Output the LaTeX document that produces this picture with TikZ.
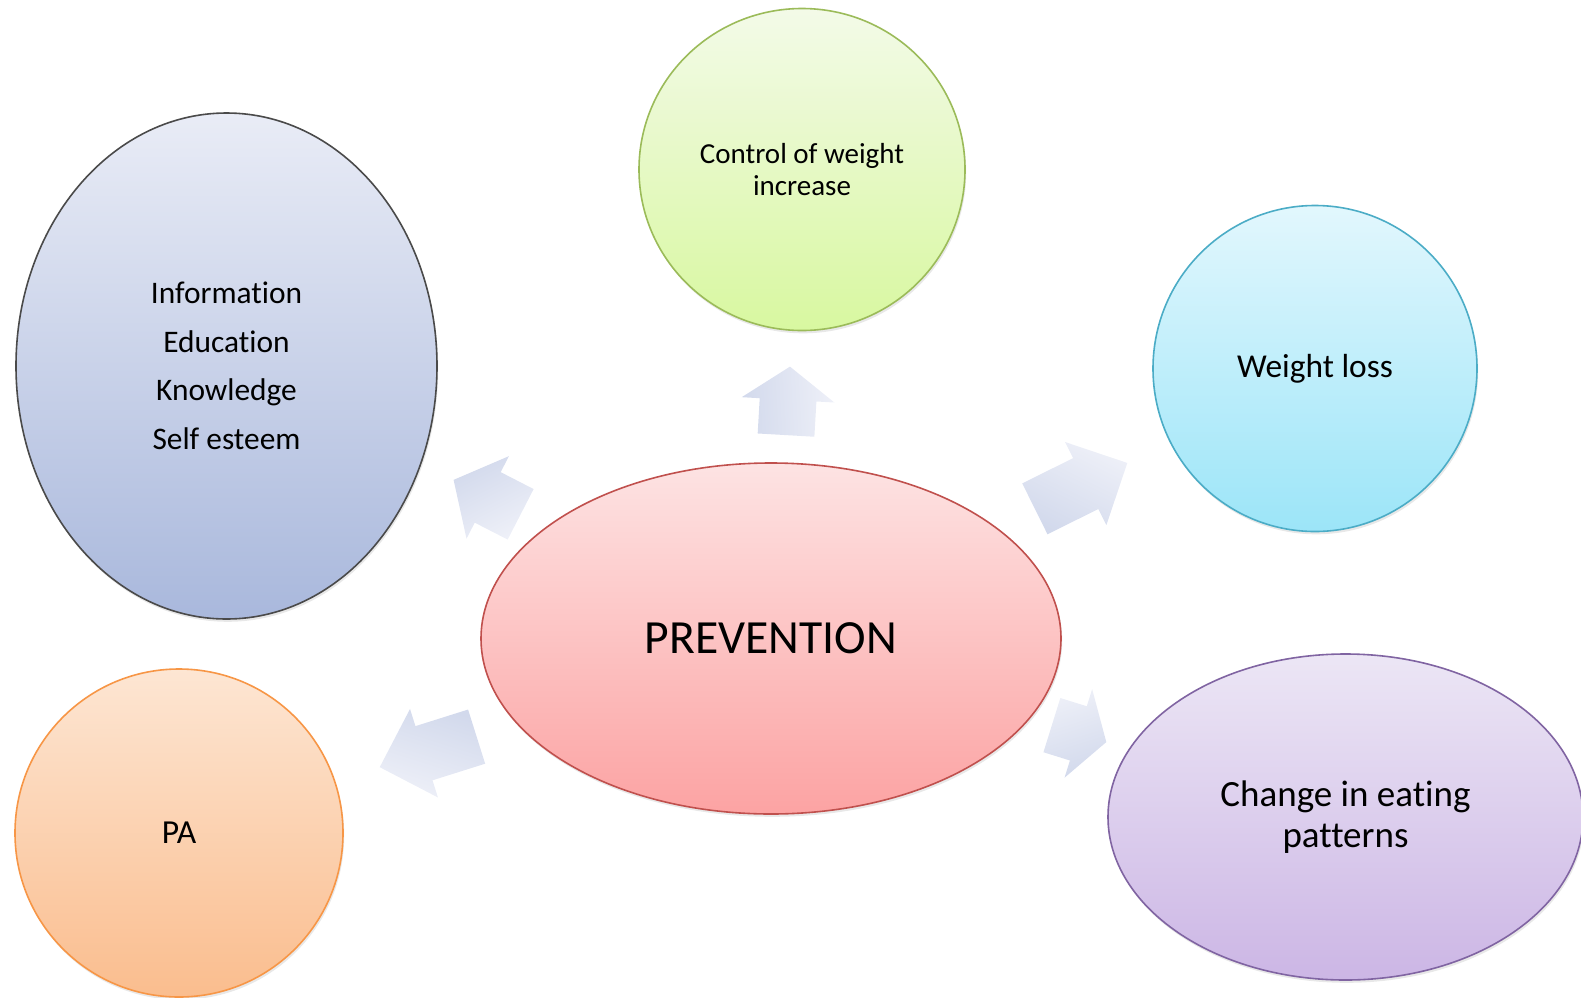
\documentclass[tikz,border=0pt]{standalone}
\usepackage{fontspec}
\setmainfont{Carlito}[Ligatures=NoCommon]
\usetikzlibrary{shapes,shapes.arrows,shadows}

\definecolor{infoTop}{HTML}{E9ECF6}
\definecolor{infoBot}{HTML}{A9B8DC}
\definecolor{infoLine}{HTML}{4A4A4A}
\definecolor{ctrlTop}{HTML}{F3FAE8}
\definecolor{ctrlBot}{HTML}{D8F8A0}
\definecolor{ctrlLine}{HTML}{9BBB59}
\definecolor{lossTop}{HTML}{E2F7FD}
\definecolor{lossBot}{HTML}{9CE5F8}
\definecolor{lossLine}{HTML}{4BACC6}
\definecolor{prevTop}{HTML}{FDE3E3}
\definecolor{prevBot}{HTML}{FCA3A3}
\definecolor{prevLine}{HTML}{C0504D}
\definecolor{paTop}{HTML}{FDE6D3}
\definecolor{paBot}{HTML}{FABD8E}
\definecolor{paLine}{HTML}{F79646}
\definecolor{eatTop}{HTML}{ECE6F5}
\definecolor{eatBot}{HTML}{CCB6E5}
\definecolor{eatLine}{HTML}{8064A2}
\definecolor{arrTop}{HTML}{EEF0F8}
\definecolor{arrBot}{HTML}{D2D9EC}

\begin{document}
\begin{tikzpicture}[
    x=0.5pt, y=-0.5pt,
    bubble/.style={ellipse, draw, line width=0.8pt, inner sep=0pt, align=center,
        drop shadow={opacity=0.18, shadow xshift=0.6pt, shadow yshift=-1.4pt}},
    blockarrow/.style={single arrow, draw=none, anchor=tail,
        inner xsep=0pt, inner ysep=14pt, text height=0pt, text depth=0pt,
        single arrow head extend=9pt,
        top color=arrTop, bottom color=arrBot, rotate=#1, shading angle=-#1}
]
\useasboundingbox (0,0) rectangle (1581,997);

% Center
\node[bubble, draw=prevLine, top color=prevTop, bottom color=prevBot,
      minimum width=290pt, minimum height=175.5pt,
      font=\fontsize{23.8}{28}\selectfont] (prevention) at (771,638.5) {PREVENTION};

% Outer bubbles
\node[bubble, draw=infoLine, top color=infoTop, bottom color=infoBot,
      minimum width=210.5pt, minimum height=253pt,
      font=\fontsize{15.7}{24.3}\selectfont] (info) at (226.5,366)
      {Information\\Education\\Knowledge\\Self esteem};
\node[bubble, draw=ctrlLine, top color=ctrlTop, bottom color=ctrlBot,
      minimum width=163pt, minimum height=161pt,
      font=\fontsize{14.5}{16.2}\selectfont] (control) at (802,169.5)
      {Control of weight\\increase};
\node[bubble, draw=lossLine, top color=lossTop, bottom color=lossBot,
      minimum width=162pt, minimum height=163pt,
      font=\fontsize{16.7}{20}\selectfont] (loss) at (1315,368.5) {Weight loss};
\node[bubble, draw=paLine, top color=paTop, bottom color=paBot,
      minimum width=164pt, minimum height=164pt,
      font=\fontsize{16.8}{20}\selectfont] (pa) at (179,833) {PA};
\node[bubble, draw=eatLine, top color=eatTop, bottom color=eatBot,
      minimum width=237.5pt, minimum height=163pt,
      font=\fontsize{18.5}{20.6}\selectfont] (eating) at (1345.5,817)
      {Change in eating\\patterns};

% Arrows
\node[blockarrow=86.7, minimum height=34.3pt, single arrow tip angle=108.7] (arrCtrl) at (786,435.5) {};
\node[blockarrow=152.8, minimum height=37.7pt, single arrow tip angle=100.8] (arrInfo) at (521,514.5) {};
\node[blockarrow=26.4, minimum height=51.6pt, single arrow tip angle=90] (arrLoss) at (1034.5,509) {};
\node[blockarrow=197.5, minimum height=50.8pt, single arrow tip angle=90] (arrPA) at (477,736.5) {};
\node[blockarrow=-17.3, minimum height=28.5pt, single arrow tip angle=115.5] (arrEat) at (1051.5,725) {};

\end{tikzpicture}
\end{document}
